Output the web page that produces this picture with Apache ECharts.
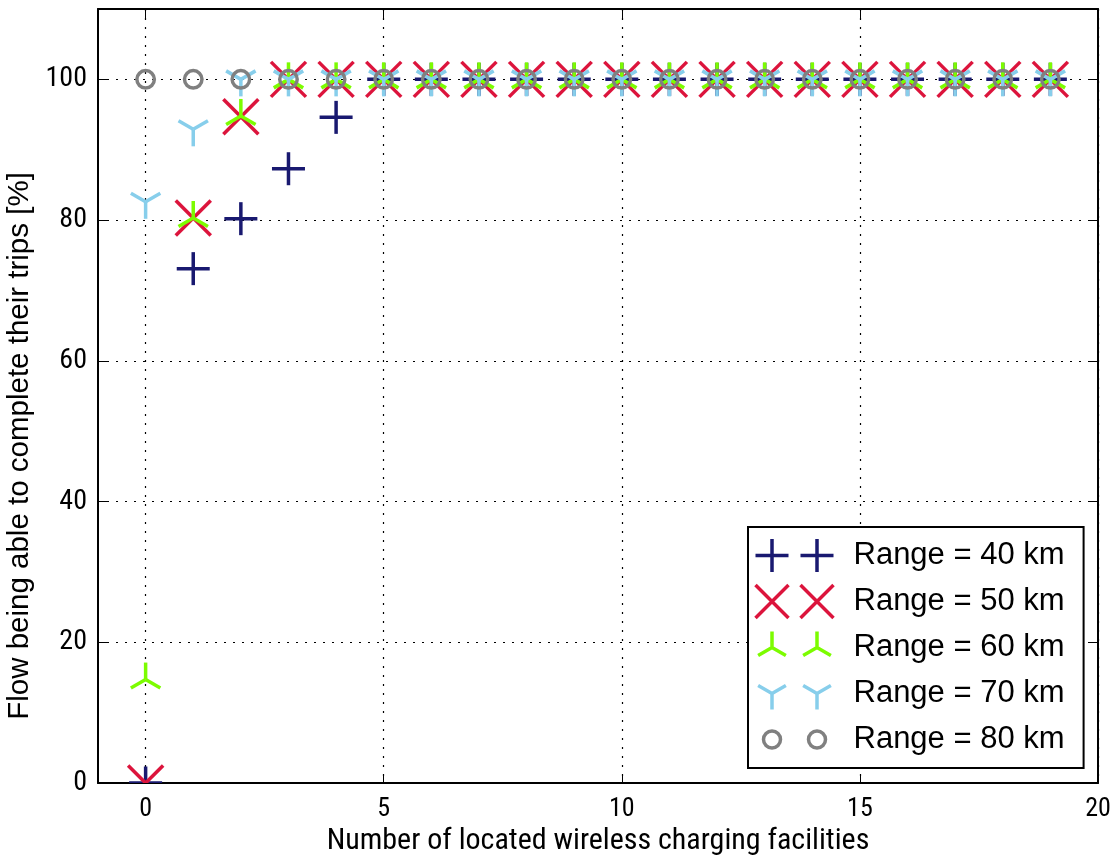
<!DOCTYPE html>
<html>
<head>
<meta charset="utf-8">
<script src="https://cdn.jsdelivr.net/npm/echarts@6/dist/echarts.min.js"></script>
<style>
html,body{margin:0;padding:0;background:#fff;}
#chart{width:1117px;height:855px;}
</style>
</head>
<body>
<div id="chart"></div>
<script>
// ---- data ----
const facilities = [0,1,2,3,4,5,6,7,8,9,10,11,12,13,14,15,16,17,18,19];
const range40 = [0, 73.1, 80.2, 87.3, 94.6, 100, 100, 100, 100, 100, 100, 100, 100, 100, 100, 100, 100, 100, 100, 100];
const range50 = [0, 80.3, 94.7, 100, 100, 100, 100, 100, 100, 100, 100, 100, 100, 100, 100, 100, 100, 100, 100, 100];
const range60 = [14.7, 80.3, 94.8, 100, 100, 100, 100, 100, 100, 100, 100, 100, 100, 100, 100, 100, 100, 100, 100, 100];
const range70 = [82.6, 92.9, 100, 100, 100, 100, 100, 100, 100, 100, 100, 100, 100, 100, 100, 100, 100, 100, 100, 100];
const range80 = [100, 100, 100, 100, 100, 100, 100, 100, 100, 100, 100, 100, 100, 100, 100, 100, 100, 100, 100, 100];
const seriesNames = ['Range = 40 km','Range = 50 km','Range = 60 km','Range = 70 km','Range = 80 km'];
const xTicks = [0,5,10,15,20];
const yTicks = [0,20,40,60,80,100];

// ---- marker geometry (relative to the point, in px) ----
const markerKinds = ['plus','cross','triUp','triDown','circle'];
function markerSegments(kind){
  const r = 17, a = r*0.866, b = r*0.5;
  switch(kind){
    case 'plus':   return [[0,-16.5,0,16.5],[-16.5,0,16.5,0]];
    case 'cross':  return [[-17.5,-17.5,17.5,17.5],[-17.5,17.5,17.5,-17.5]];
    case 'triUp':  return [[0,0,0,-r],[0,0,-a,b],[0,0,a,b]];
    case 'triDown':return [[0,0,0,r],[0,0,-a,-b],[0,0,a,-b]];
  }
  return [];
}

// legend icons: two markers each, in a 93x36 box
const c1 = 16.5, c2 = 61.5, cy = 18;
function legPlus(){ let s='path://M0,0 M93,36'; [c1,c2].forEach(c=>{ s+=` M${c},${cy-16.5} L${c},${cy+16.5} M${c-16.5},${cy} L${c+16.5},${cy}`;}); return s; }
function legCross(){ let s='path://M0,0 M93,36'; const h=16.5; [c1,c2].forEach(c=>{ s+=` M${c-h},${cy-h} L${c+h},${cy+h} M${c-h},${cy+h} L${c+h},${cy-h}`;}); return s; }
function legTri(up){ let s='path://M0,0 M93,36'; const r=16, a=r*0.866, b=r*0.5, d=up?-1:1; [c1,c2].forEach(c=>{ s+=` M${c},${cy} L${c},${cy+d*r} M${c},${cy} L${c-a},${cy-d*b} M${c},${cy} L${c+a},${cy-d*b}`;}); return s; }
function legCirc(){ let s='path://M0,0 M93,36'; const r=8.5; [c1,c2].forEach(c=>{ s+=` M${c-r},${cy} A${r},${r} 0 1 1 ${c+r},${cy} A${r},${r} 0 1 1 ${c-r},${cy} Z`;}); return s; }

const colors = ['#191970','#DC143C','#7CFC00','#87CEEB','#808080'];
const legIcons = [legPlus(), legCross(), legTri(true), legTri(false), legCirc()];
const values = [range40, range50, range60, range70, range80];
const strokeW = 3.5;

const chart = echarts.init(document.getElementById('chart'), null, {renderer:'canvas'});
const sans = "'Liberation Sans',Arial,sans-serif";
const narrow = "'Roboto Condensed','Liberation Sans',sans-serif";
const gridLine = {show:true, lineStyle:{color:'#000', width:1.2, type:[2,7]}};

function makeRender(kind, color){
  return function(params, api){
    const p = api.coord([api.value(0), api.value(1)]);
    if (kind === 'circle') {
      return {type:'circle', shape:{cx:p[0], cy:p[1], r:8.75},
              style:{fill:'none', stroke:color, lineWidth:strokeW}};
    }
    return {type:'group', children: markerSegments(kind).map(s=>({
      type:'line', shape:{x1:p[0]+s[0], y1:p[1]+s[1], x2:p[0]+s[2], y2:p[1]+s[3]},
      style:{stroke:color, lineWidth:strokeW}
    }))};
  };
}

const series = values.map((v,i)=>({
  name: seriesNames[i],
  type: 'custom',
  xAxisIndex: 0, yAxisIndex: 0,
  data: facilities.map((x,k)=>[x, v[k]]),
  encode: {x: 0, y: 1},
  renderItem: makeRender(markerKinds[i], colors[i]),
  itemStyle: {color: colors[i]},
  clip: true,
  silent: true,
  z: 2 + i
}));

chart.setOption({
  animation: false,
  backgroundColor: '#fff',
  grid: {left: 98, right: 19, top: 9, bottom: 72, containLabel: false, outerBoundsMode: 'none'},
  legend: {
    orient: 'vertical',
    left: 748, top: 527,
    padding: [8, 19, 8, 5],
    itemWidth: 93, itemHeight: 36, itemGap: 5,
    borderColor: '#000', borderWidth: 2,
    backgroundColor: '#fff',
    textStyle: {fontFamily: sans, fontSize: 31, lineHeight: 36, color: '#000'},
    selectedMode: false,
    data: seriesNames.map((n,i)=>({name:n, icon: legIcons[i],
      itemStyle:{color:'none', borderColor: colors[i], borderWidth: strokeW}}))
  },
  xAxis: [{
    type: 'value', min: -1, max: 20, position: 'bottom',
    name: 'Number of located wireless charging facilities',
    nameLocation: 'middle', nameGap: 39,
    nameTextStyle: {fontFamily: narrow, fontSize: 30, color: '#000'},
    axisLine: {show: true, onZero: false, lineStyle: {color: '#000', width: 2}},
    axisTick: {show: true, inside: true, length: 9, customValues: xTicks, lineStyle:{color:'#000', width:1}},
    axisLabel: {show: true, margin: 13, customValues: xTicks, fontFamily: narrow, fontSize: 26, color: '#000'},
    splitLine: gridLine
  },{
    type: 'value', min: -1, max: 20, position: 'top',
    axisLine: {show: true, onZero: false, lineStyle: {color: '#000', width: 2}},
    axisTick: {show: true, inside: true, length: 9, customValues: xTicks, lineStyle:{color:'#000', width:1}},
    axisLabel: {show: false}, splitLine: {show: false}
  }],
  yAxis: [{
    type: 'value', min: 0, max: 110, position: 'left',
    name: 'Flow being able to complete their trips [%]',
    nameLocation: 'middle', nameGap: 54, nameRotate: 90,
    nameTextStyle: {fontFamily: sans, fontSize: 29.5, color: '#000', padding:[0,100,0,0]},
    axisLine: {show: true, onZero: false, lineStyle: {color: '#000', width: 2}},
    axisTick: {show: true, inside: true, length: 9, customValues: yTicks, lineStyle:{color:'#000', width:1}},
    axisLabel: {show: true, margin: 11, customValues: yTicks, fontFamily: narrow, fontSize: 28, color: '#000'},
    splitLine: gridLine
  },{
    type: 'value', min: 0, max: 110, position: 'right',
    axisLine: {show: true, onZero: false, lineStyle: {color: '#000', width: 2}},
    axisTick: {show: true, inside: true, length: 9, customValues: yTicks, lineStyle:{color:'#000', width:1}},
    axisLabel: {show: false}, splitLine: {show: false}
  }],
  series: series
});
</script>
</body>
</html>
